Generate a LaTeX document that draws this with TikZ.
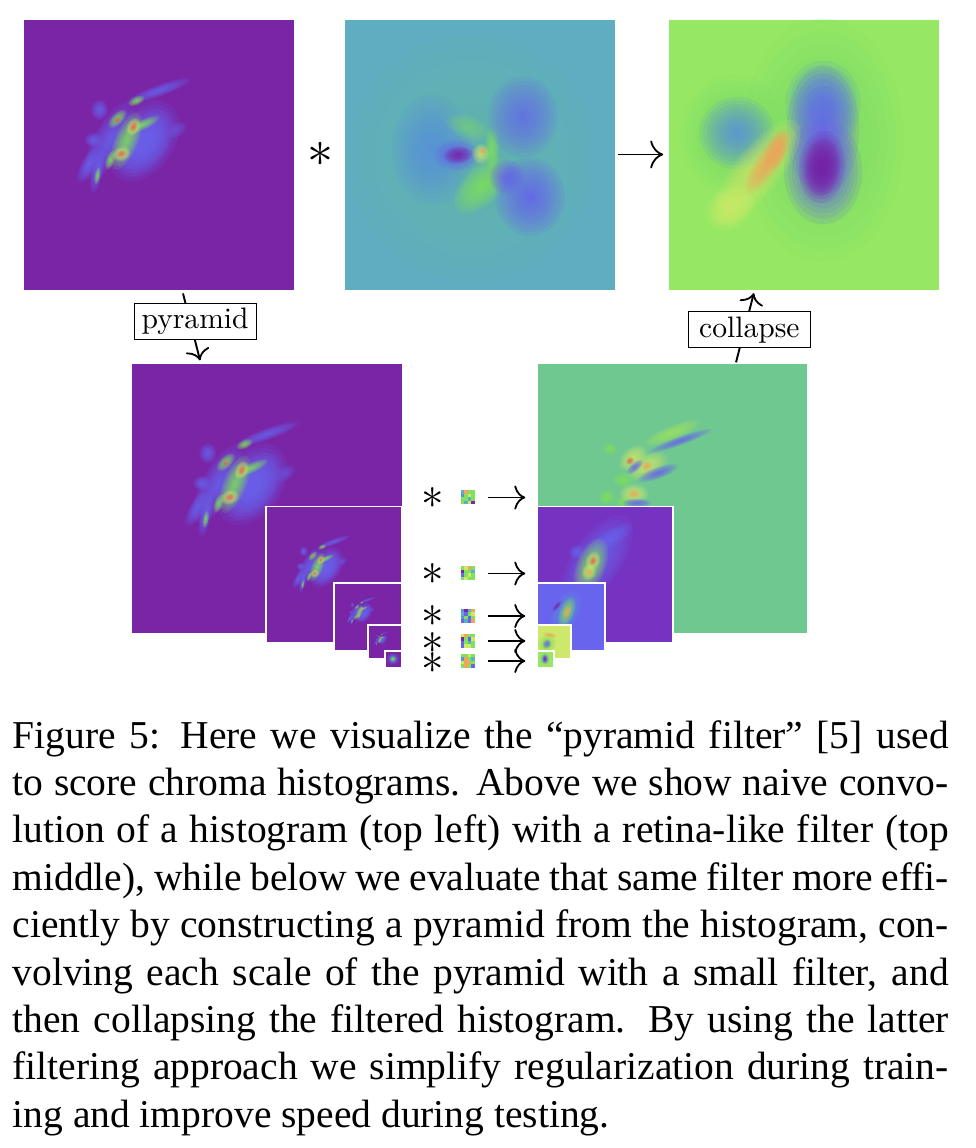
\documentclass[tikz,border=0pt]{standalone}
\usepackage{fontspec}
\newfontfamily\capfont{Liberation Serif}
\usepackage{tikz}
\usetikzlibrary{arrows.meta}
\definecolor{HeatViolet}{RGB}{122,36,166}
\definecolor{HeatIndigo}{RGB}{118,50,192}
\definecolor{HeatBlue}{RGB}{105,100,238}
\definecolor{HeatSky}{RGB}{88,145,222}
\definecolor{HeatTeal}{RGB}{95,173,192}
\definecolor{HeatMint}{RGB}{112,200,145}
\definecolor{HeatGreen}{RGB}{128,226,92}
\definecolor{HeatLime}{RGB}{150,232,100}
\definecolor{HeatYellow}{RGB}{206,232,108}
\definecolor{HeatOrange}{RGB}{240,165,92}
\definecolor{HeatRed}{RGB}{236,92,88}
\newcommand{\heatblob}[6]{\foreach \k in {1,...,14}{
  \fill[#6,opacity=.14,rotate around={#5:(#1,#2)}] (#1,#2) ellipse ({#3*1.45*(\k/14)^1.5} and {#4*1.45*(\k/14)^1.5});}}
\newcommand{\histblobs}{
  \heatblob{121}{122}{31}{21}{55}{HeatBlue}
  \heatblob{123}{124}{26}{15}{55}{HeatBlue}
  \heatblob{87}{122}{30}{11}{62}{HeatBlue}
  \heatblob{136}{72}{24}{4}{20}{HeatBlue}
  \heatblob{77}{91}{6}{7}{0}{HeatBlue}
  \heatblob{71}{121}{6}{5}{0}{HeatBlue}
  \heatblob{75}{152}{16}{4}{78}{HeatBlue}
  \heatblob{66}{146}{14}{5}{62}{HeatBlue}
  \heatblob{154}{111}{8}{5}{30}{HeatBlue!70!HeatViolet}
  \heatblob{114}{82}{6}{3}{25}{HeatGreen}
  \heatblob{104}{122}{21}{8}{68}{HeatGreen}
  \heatblob{120}{106}{13}{3.5}{25}{HeatGreen}
  \heatblob{95}{100}{8}{4}{45}{HeatGreen}
  \heatblob{88}{141}{7}{3}{70}{HeatGreen}
  \heatblob{75}{157}{6}{2}{80}{HeatGreen}
  \heatblob{111}{108}{6.5}{4.5}{65}{HeatYellow}
  \heatblob{99}{135}{6.5}{5}{20}{HeatYellow}
  \heatblob{111}{108}{4}{2.5}{65}{HeatRed}
  \heatblob{99}{135}{3.5}{2.5}{20}{HeatRed}
  \heatblob{95}{101}{2.5}{1.8}{45}{HeatRed}
}
\newcommand{\filtcells}[2]{
  \begin{scope}[shift={(#1.north west)}]
    \foreach \c [count=\n from 0] in {#2}{
      \pgfmathtruncatemacro{\i}{mod(\n,4)}
      \pgfmathtruncatemacro{\j}{int(\n/4)}
      \fill[\c] (\i*3.5,\j*3.5) rectangle +(3.5,3.5);}
  \end{scope}
}

\begin{document}
\begin{tikzpicture}[
  x=1pt,y=-1pt,
  >={Computer Modern Rightarrow[length=11pt,width=24pt,line width=1.8pt]},
  imgbox/.style={draw=white,line width=.6pt,minimum size=#1,inner sep=0pt},
  pyrbox/.style={draw=white,line width=1.4pt,minimum size=#1,inner sep=0pt},
  labelbox/.style={draw=black,fill=white,line width=.9pt,minimum width=122pt,minimum height=36pt,inner sep=0pt},
  opstar/.style={inner sep=0pt,scale=#1},
  patch/.style={minimum size=14pt,inner sep=0pt},
  link/.style={->,line width=1.9pt},
]
\useasboundingbox (0,0) rectangle (976,1148);

\node[imgbox=271pt,fill=HeatViolet] (hist) at (158.3,154.7) {};
\begin{scope}[shift={(hist.north west)}]
  \histblobs
\end{scope}

\node[imgbox=271pt,fill=HeatTeal] (filt) at (479.5,154.5) {};
\heatblob{472}{158}{85}{85}{0}{HeatTeal!80!HeatGreen}
\heatblob{432}{150}{28}{38}{0}{HeatSky}
\heatblob{482}{186}{24}{13}{45}{HeatGreen}
\heatblob{468}{127}{16}{8}{-20}{HeatGreen!60!HeatTeal}
\heatblob{492}{150}{5}{16}{0}{HeatGreen}
\heatblob{523}{117}{24}{28}{0}{HeatBlue!85!HeatTeal}
\heatblob{530}{197}{24}{27}{0}{HeatBlue}
\heatblob{507}{177}{12}{12}{0}{HeatBlue}
\heatblob{457}{155}{16}{11}{0}{HeatBlue}
\heatblob{458}{155}{10}{6}{5}{HeatViolet}
\heatblob{481}{154}{6}{7}{0}{HeatYellow}
\heatblob{483}{151}{2.5}{2.5}{0}{HeatOrange}

\node[imgbox=271pt,fill=HeatLime] (final) at (804,154.5) {};
\heatblob{823}{140}{56}{84}{0}{HeatGreen!75!HeatMint}
\heatblob{735}{135}{38}{42}{0}{HeatGreen!75!HeatMint}
\heatblob{737}{133}{26}{25}{0}{HeatSky}
\heatblob{823}{104}{26}{30}{0}{HeatSky}
\heatblob{823}{130}{25}{44}{0}{HeatBlue}
\heatblob{823}{172}{27}{36}{0}{HeatBlue}
\heatblob{822}{167}{16}{25}{-5}{HeatViolet}
\heatblob{822}{167}{12}{20}{-5}{HeatViolet}
\heatblob{757}{172}{44}{16}{52}{HeatYellow}
\heatblob{730}{208}{18}{14}{35}{HeatYellow}
\heatblob{768}{162}{26}{8}{56}{HeatOrange}
\heatblob{777}{150}{15}{7}{72}{HeatOrange}

\node[pyrbox=271pt,fill=HeatViolet] (pyr1) at (267,498.5) {};
\begin{scope}[shift={(pyr1.north west)}]
  \histblobs
\end{scope}
\node[pyrbox=136pt,fill=HeatViolet] (pyr2) at (334,574.7) {};
\begin{scope}[shift={(pyr2.north west)},scale=.5]
  \histblobs
\end{scope}
\node[pyrbox=68pt,fill=HeatViolet] (pyr3) at (368,616.8) {};
\begin{scope}[shift={(pyr3.north west)},scale=.25]
  \histblobs
\end{scope}
\node[pyrbox=34pt,fill=HeatViolet] (pyr4) at (385,642) {};
\begin{scope}[shift={(pyr4.north west)},scale=.125]
  \histblobs
\end{scope}
\node[pyrbox=17pt,fill=HeatViolet] (pyr5) at (393.5,659.5) {};
\heatblob{393}{659}{4}{4}{60}{HeatSky}
\heatblob{393}{659}{2}{2}{60}{HeatGreen}

\node[pyrbox=271pt,fill=HeatMint] (rec1) at (672.5,498.5) {};
\heatblob{672}{433}{21}{5}{22}{HeatGreen!60!HeatYellow}
\heatblob{680}{441}{23}{3}{20}{HeatBlue}
\heatblob{623}{480}{7}{5}{0}{HeatGreen}
\heatblob{607}{497}{6}{5}{0}{HeatGreen}
\heatblob{610}{449}{5}{4}{0}{HeatGreen}
\heatblob{623}{502}{5}{4}{0}{HeatGreen}
\heatblob{633}{458}{11}{7}{40}{HeatYellow}
\heatblob{647}{466}{15}{8}{25}{HeatYellow}
\heatblob{634}{494}{10}{7}{0}{HeatYellow}
\heatblob{635}{467}{7}{3}{40}{HeatBlue}
\heatblob{658}{473}{15}{4}{20}{HeatBlue}
\heatblob{637}{503}{10}{3}{0}{HeatBlue}
\heatblob{630}{461}{3}{2.5}{40}{HeatRed}
\heatblob{647}{466}{4}{3}{25}{HeatOrange}
\heatblob{634}{494}{4}{3}{0}{HeatOrange}

\node[pyrbox=136pt,fill=HeatIndigo] (rec2) at (605,574.7) {};
\heatblob{597}{560}{36}{17}{55}{HeatBlue}
\heatblob{608}{540}{20}{6}{32}{HeatBlue}
\heatblob{577}{552}{6}{5}{0}{HeatBlue}
\heatblob{591}{566}{20}{10}{68}{HeatGreen}
\heatblob{593}{561}{7}{5}{70}{HeatYellow}
\heatblob{589}{572}{6}{5}{70}{HeatYellow}
\heatblob{593}{561}{3.5}{2.5}{70}{HeatRed}
\heatblob{589}{572}{2.5}{2.5}{70}{HeatOrange}

\node[pyrbox=68pt,fill=HeatBlue] (rec3) at (571,616.8) {};
\heatblob{566}{612}{16}{9}{65}{HeatSky}
\heatblob{567}{612}{11}{5}{70}{HeatGreen}
\heatblob{567}{612}{5}{2.5}{70}{HeatOrange}
\heatblob{557}{606}{5}{1.5}{50}{HeatViolet}

\node[pyrbox=34pt,fill=HeatYellow] (rec4) at (554,642) {};
\heatblob{547}{644}{7}{6}{60}{HeatGreen}
\heatblob{547}{644}{3.5}{3}{60}{HeatBlue}
\heatblob{550}{635}{5}{1.5}{-10}{HeatOrange}

\node[pyrbox=17pt,fill=HeatLime] (rec5) at (545.5,659.5) {};
\heatblob{545}{659}{3}{4}{0}{HeatBlue}
\heatblob{545}{659}{1.5}{2.5}{0}{HeatViolet}

\node[opstar=5.2] (star) at (320,154.5) {$\ast$};
\draw[link,shorten <=3pt,shorten >=5pt,>={Computer Modern Rightarrow[length=13pt,width=28pt,line width=1.8pt]}] (filt) -- (final);

\draw[link,shorten <=3pt,shorten >=2pt] (hist.-80.6) -- node[labelbox,pos=.43,xshift=5pt] (pyramid) {\scalebox{2.96}{pyramid}} (pyr1.116.3);
\draw[link,shorten >=3pt] (rec1.65) -- node[labelbox,pos=.45,xshift=5pt] (collapse) {\scalebox{2.96}{collapse}} (final.-110.7);

\node[opstar=4.5] (star0) at (433,498.5) {$\ast$};
\node[opstar=4.5] (star1) at (433,574) {$\ast$};
\node[opstar=4.5] (star2) at (433,616.5) {$\ast$};
\node[opstar=4.5] (star3) at (433,643) {$\ast$};
\node[opstar=4.5] (star4) at (433,663) {$\ast$};

\node[patch] (patch0) at (468,497.5) {};
\node[patch] (patch1) at (468,573.5) {};
\node[patch] (patch2) at (468,616) {};
\node[patch] (patch3) at (468,641) {};
\node[patch] (patch4) at (468,661) {};
\filtcells{patch0}{HeatTeal,HeatOrange,HeatGreen,HeatGreen,HeatSky,HeatGreen,HeatYellow,HeatGreen,HeatGreen,HeatGreen,HeatTeal,HeatGreen,HeatGreen,HeatTeal,HeatYellow,HeatViolet}
\filtcells{patch1}{HeatGreen,HeatYellow,HeatOrange,HeatGreen,HeatViolet,HeatGreen,HeatGreen,HeatTeal,HeatBlue,HeatGreen,HeatYellow,HeatGreen,HeatGreen,HeatYellow,HeatGreen,HeatGreen}
\filtcells{patch2}{HeatSky,HeatViolet,HeatTeal,HeatOrange,HeatTeal,HeatBlue,HeatGreen,HeatYellow,HeatSky,HeatGreen,HeatBlue,HeatGreen,HeatBlue,HeatTeal,HeatBlue,HeatOrange}
\filtcells{patch3}{HeatYellow,HeatOrange,HeatGreen,HeatGreen,HeatViolet,HeatGreen,HeatBlue,HeatYellow,HeatBlue,HeatGreen,HeatTeal,HeatGreen,HeatBlue,HeatYellow,HeatYellow,HeatGreen}
\filtcells{patch4}{HeatGreen,HeatGreen,HeatYellow,HeatGreen,HeatSky,HeatOrange,HeatGreen,HeatTeal,HeatYellow,HeatOrange,HeatOrange,HeatGreen,HeatGreen,HeatOrange,HeatGreen,HeatBlue}

\draw[link,shorten <=13pt,shorten >=11pt] (patch0) -- (patch0 -| rec1.west);
\draw[link,shorten <=13pt,shorten >=11pt] (patch1) -- (patch1 -| rec1.west);
\draw[link,shorten <=13pt,shorten >=11pt] (patch2) -- (patch2 -| rec1.west);
\draw[link,shorten <=13pt,shorten >=11pt] (patch3) -- (patch3 -| rec1.west);
\draw[link,shorten <=13pt,shorten >=11pt] (patch4) -- (patch4 -| rec1.west);

\node[anchor=north west,inner sep=0pt,text width=936pt,align=justify,
      font=\capfont\fontsize{39.5}{47.4}\selectfont] (caption) at (12.5,720) {%
Figure 5: Here we visualize the “pyramid filter” [5] used\linebreak
to score chroma histograms. Above we show naive convo-\linebreak
lution of a histogram (top left) with a retina-like filter (top\linebreak
middle), while below we evaluate that same filter more effi-\linebreak
ciently by constructing a pyramid from the histogram, con-\linebreak
volving each scale of the pyramid with a small filter, and\linebreak
then collapsing the filtered histogram. By using the latter\linebreak
filtering approach we simplify regularization during train-\linebreak
ing and improve speed during testing.};
\end{tikzpicture}
\end{document}
